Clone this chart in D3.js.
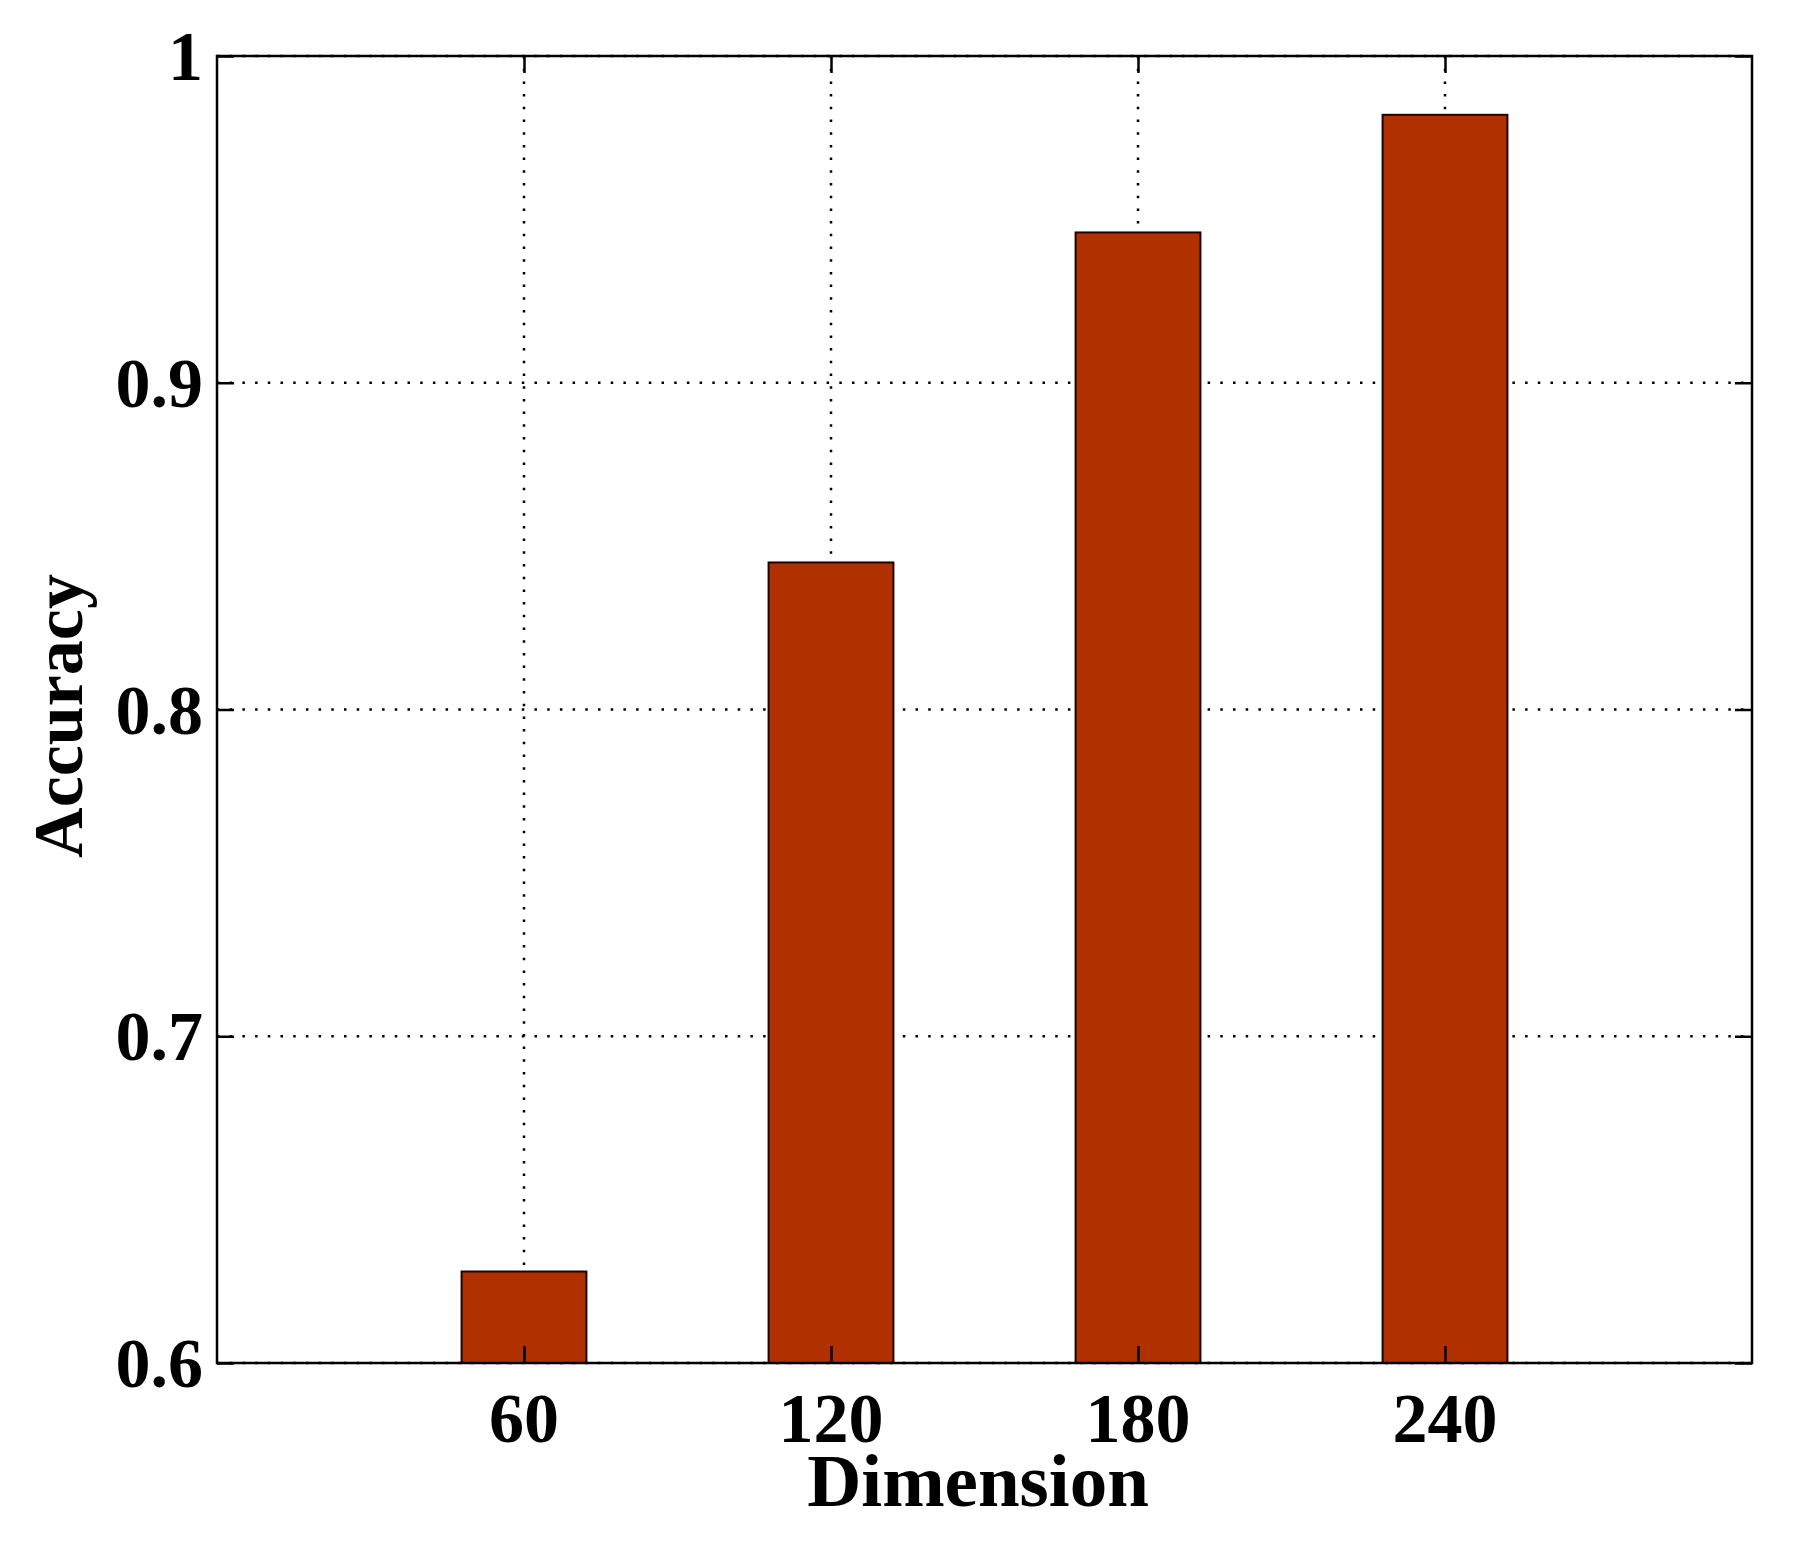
<!DOCTYPE html>
<html>
<head>
<meta charset="utf-8">
<script src="https://cdn.jsdelivr.net/npm/d3@7"></script>
<style>
  html, body { margin: 0; padding: 0; background: #fff; }
  svg { display: block; }
  text { font-family: "Liberation Serif", "Times New Roman", serif; font-weight: bold; fill: #000; }
</style>
</head>
<body>
<script>
const categories = [60, 120, 180, 240];
const accuracy = [0.628, 0.845, 0.946, 0.982];
const yTicks = [0.6, 0.7, 0.8, 0.9, 1];
const yTickLabels = ["0.6", "0.7", "0.8", "0.9", "1"];
const xLabel = "Dimension";
const yLabel = "Accuracy";

(function () {
const W = 1793, H = 1542;
const pL = 217, pR = 1752, pT = 56, pB = 1363;

const svg = d3.select("body").append("svg").attr("width", W).attr("height", H);

const x = d3.scaleLinear().domain([0, 300]).range([pL, pR]);
const y = d3.scaleLinear().domain([0.6, 1]).range([pB, pT]);
const barW = x(24.4) - x(0);

// gridlines
const grid = svg.append("g").attr("stroke", "#000").attr("stroke-width", 2.5).attr("stroke-dasharray", "2.5 10.2");
grid.selectAll(".gy").data(yTicks).join("line").attr("class", "gy")
  .attr("x1", pL).attr("x2", pR)
  .attr("y1", d => y(d)).attr("y2", d => y(d));
grid.selectAll(".gx").data(categories).join("line").attr("class", "gx")
  .attr("x1", d => x(d)).attr("x2", d => x(d))
  .attr("y1", pT).attr("y2", pB);

// bars
svg.append("g").selectAll("rect").data(categories).join("rect")
  .attr("x", d => x(d) - barW / 2)
  .attr("width", barW)
  .attr("y", (d, i) => y(accuracy[i]))
  .attr("height", (d, i) => y(0.6) - y(accuracy[i]))
  .attr("fill", "#B03000")
  .attr("stroke", "#1a0500")
  .attr("stroke-width", 2);

// axes (inward ticks)
const tickLen = 17;
function styleAxis(g) {
  g.select(".domain").remove();
  g.selectAll("line").attr("stroke", "#000").attr("stroke-width", 2.5);
}
svg.append("g").attr("transform", `translate(${pL},0)`)
  .call(d3.axisRight(y).tickValues(yTicks).tickSize(tickLen).tickFormat("")).call(styleAxis);
svg.append("g").attr("transform", `translate(${pR},0)`)
  .call(d3.axisLeft(y).tickValues(yTicks).tickSize(tickLen).tickFormat("")).call(styleAxis);
svg.append("g").attr("transform", `translate(0,${pT})`)
  .call(d3.axisBottom(x).tickValues(categories).tickSize(tickLen).tickFormat("")).call(styleAxis);
svg.append("g").attr("transform", `translate(0,${pB})`)
  .call(d3.axisTop(x).tickValues(categories).tickSize(tickLen).tickFormat("")).call(styleAxis);

// frame
svg.append("rect")
  .attr("x", pL).attr("y", pT)
  .attr("width", pR - pL).attr("height", pB - pT)
  .attr("fill", "none").attr("stroke", "#000").attr("stroke-width", 2.5);

// tick labels
svg.append("g").selectAll("text").data(yTicks).join("text")
  .attr("x", pL - 14)
  .attr("y", d => y(d) + 24)
  .attr("text-anchor", "end")
  .attr("font-size", 70)
  .text((d, i) => yTickLabels[i]);

svg.append("g").selectAll("text").data(categories).join("text")
  .attr("x", d => x(d))
  .attr("y", 1442)
  .attr("text-anchor", "middle")
  .attr("font-size", 70)
  .text(d => d);

// axis titles
svg.append("text")
  .attr("x", 978).attr("y", 1506)
  .attr("text-anchor", "middle")
  .attr("font-size", 75)
  .text(xLabel);

svg.append("text")
  .attr("transform", "translate(82,716) rotate(-90)")
  .attr("text-anchor", "middle")
  .attr("font-size", 70)
  .text(yLabel);
})();
</script>
</body>
</html>
